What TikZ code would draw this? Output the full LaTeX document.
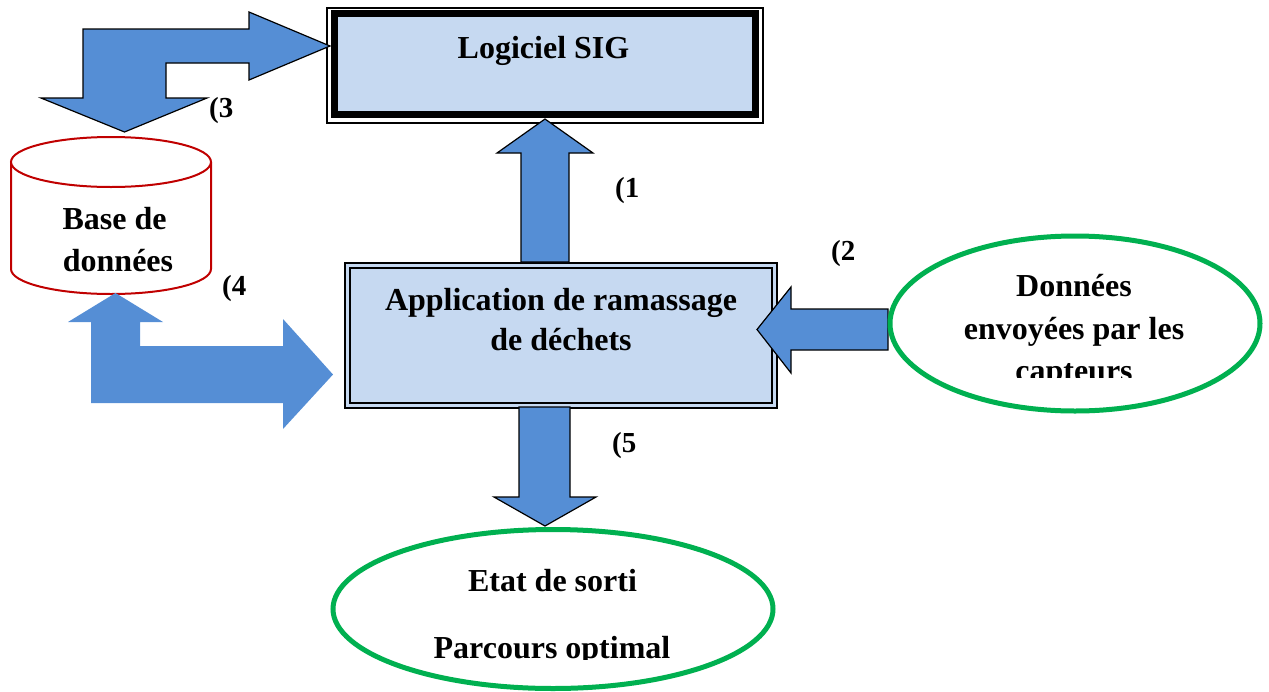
\documentclass[tikz,border=0pt]{standalone}
\usepackage{fontspec}
\setmainfont{Liberation Serif}
\usetikzlibrary{shapes.geometric}
\definecolor{boxblue}{HTML}{C6D9F1}
\definecolor{arrowblue}{HTML}{558ED5}
\definecolor{dbred}{HTML}{C00000}
\definecolor{ovalgreen}{HTML}{00B050}
\begin{document}
\begin{tikzpicture}[x=1pt,y=-1pt,
  txt/.style={font=\fontsize{32}{38}\selectfont\bfseries, inner sep=0pt, anchor=base},
  lbl/.style={font=\fontsize{29}{34}\selectfont\bfseries, inner sep=0pt, anchor=base west},
  blockarrow/.style={fill=arrowblue, draw=black, line width=1.2pt, line join=miter},
  oval/.style={ellipse, draw=ovalgreen, line width=5pt, fill=white, inner sep=0pt},
  framebox/.style={rectangle, draw=black, inner sep=0pt}]

\useasboundingbox (0,0) rectangle (1269,691);

% Logiciel SIG
\node[framebox, line width=2pt, fill=white, minimum width=436pt, minimum height=115pt] (sigout) at (545,65.5) {};
\node[framebox, line width=7pt, fill=boxblue, minimum width=421.5pt, minimum height=101pt] (sig) at (544.75,64) {};
\node[txt] (sigtxt) at (543.5,58) {Logiciel SIG};

% Application box
\node[framebox, line width=2.2pt, fill=boxblue, minimum width=432pt, minimum height=145pt] (appout) at (561,335.5) {};
\node[framebox, line width=2pt, fill=boxblue, minimum width=422pt, minimum height=135pt] (app) at (561,335.5) {};
\node[txt] (app1) at (561,310) {Application de ramassage};
\node[txt] (app2) at (561,350) {de déchets};

% Database cylinder
\fill[white] (11,162) -- (11,269) arc[start angle=180, end angle=360, x radius=100pt, y radius=25pt] -- (211,162) -- cycle;
\draw[dbred, line width=2pt] (11,162) -- (11,269) arc[start angle=180, end angle=360, x radius=100pt, y radius=25pt] -- (211,162);
\draw[dbred, line width=2pt, fill=white] (111,162) ellipse [x radius=100pt, y radius=25pt];
\node[txt] (db1) at (114.5,229) {Base de};
\node[txt] (db2) at (118,271) {données};

% Arrow 3 (bent, double)
\draw[blockarrow] (83,29) -- (249,29) -- (249,12) -- (330,46) -- (249,80) -- (249,63)
  -- (166,63) -- (166,98) -- (207,98) -- (124.5,132) -- (41,98) -- (83,98) -- cycle;
% Arrow 1 (up)
\draw[blockarrow] (521,262) -- (521,153) -- (497,153) -- (545,119) -- (593,153) -- (569,153) -- (569,262) -- cycle;
% Arrow 2 (left)
\draw[blockarrow] (888,309) -- (791,309) -- (791,287) -- (757,329.5) -- (791,373) -- (791,350) -- (888,350) -- cycle;
% Arrow 5 (down)
\draw[blockarrow] (519,407) -- (519,497) -- (494,497) -- (545,526) -- (596,497) -- (570,497) -- (570,407) -- cycle;
% Arrow 4 (bent, no outline)
\fill[arrowblue] (115.5,293) -- (163,322) -- (140,322) -- (140,346) -- (283,346) -- (283,319) -- (333,374.5)
  -- (283,429) -- (283,403) -- (91,403) -- (91,322) -- (68,322) -- cycle;

% Sensors ellipse
\node[oval, minimum width=370pt, minimum height=175pt] (capt) at (1075,323.5) {};
\node[txt] (capt1) at (1074,296) {Données};
\node[txt] (capt2) at (1074,339) {envoyées par les};
\begin{scope}
  \clip (900,250) rectangle (1250,377);
  \node[txt] (capt3) at (1074,381) {capteurs};
\end{scope}

% Output ellipse
\node[oval, minimum width=440pt, minimum height=159pt] (out) at (553,609) {};
\node[txt] (out1) at (552.5,591) {Etat de sorti};
\begin{scope}
  \clip (400,620) rectangle (720,659);
  \node[txt] (out2) at (552,658) {Parcours optimal};
\end{scope}

% Labels
\node[lbl] (l3) at (209,117) {(3};
\node[lbl] (l1) at (615,197) {(1};
\node[lbl] (l2) at (831,260) {(2};
\node[lbl] (l4) at (222,295) {(4};
\node[lbl] (l5) at (612,452) {(5};
\end{tikzpicture}
\end{document}
